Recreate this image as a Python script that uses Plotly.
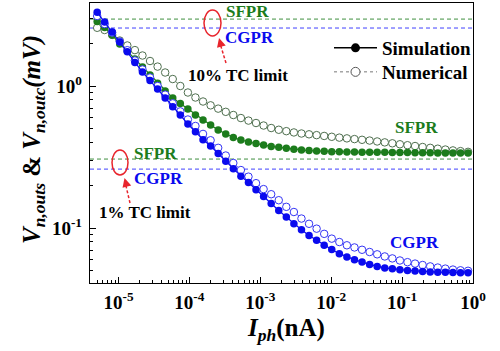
import plotly.graph_objects as go

# ---------------- data ----------------
I_ph = [5.0e-6, 6.37e-6, 8.14e-6, 1.041e-5, 1.331e-5, 1.702e-5, 2.177e-5, 2.784e-5, 3.560e-5, 4.551e-5,
        5.821e-5, 7.443e-5, 9.519e-5, 1.217e-4, 1.557e-4, 1.991e-4, 2.546e-4, 3.256e-4, 4.163e-4, 5.324e-4,
        6.808e-4, 8.706e-4, 1.113e-3, 1.424e-3, 1.821e-3, 2.328e-3, 2.977e-3, 3.807e-3, 4.869e-3, 6.226e-3,
        7.962e-3, 1.018e-2, 1.302e-2, 1.665e-2, 2.129e-2, 2.723e-2, 3.482e-2, 4.452e-2, 5.694e-2, 7.281e-2,
        9.311e-2, 0.1191, 0.1523, 0.1947, 0.2490, 0.3184, 0.4072, 0.5207, 0.6659, 0.8515]

sfpr_sim = [2.85, 2.58, 2.29, 1.98, 1.76, 1.55, 1.36, 1.195, 1.045, 0.922,
            0.823, 0.753, 0.689, 0.625, 0.576, 0.531, 0.490, 0.459, 0.434, 0.417,
            0.403, 0.394, 0.384, 0.375, 0.370, 0.365, 0.359, 0.354, 0.351, 0.349,
            0.347, 0.345, 0.344, 0.343, 0.343, 0.342, 0.342, 0.341, 0.341, 0.340,
            0.340, 0.340, 0.339, 0.339, 0.339, 0.338, 0.338, 0.338, 0.337, 0.337]

sfpr_num = [2.57, 2.48, 2.29, 2.09, 1.93, 1.79, 1.64, 1.50, 1.37, 1.245,
            1.12, 1.00, 0.900, 0.830, 0.778, 0.731, 0.693, 0.658, 0.625, 0.595,
            0.571, 0.549, 0.527, 0.506, 0.492, 0.481, 0.471, 0.463, 0.457, 0.451,
            0.445, 0.439, 0.433, 0.428, 0.423, 0.418, 0.413, 0.407, 0.401, 0.395,
            0.389, 0.383, 0.378, 0.372, 0.367, 0.362, 0.357, 0.352, 0.348, 0.344]

cgpr_sim = [3.30, 2.82, 2.40, 2.04, 1.744, 1.464, 1.255, 1.093, 0.953, 0.823,
            0.714, 0.625, 0.540, 0.476, 0.419, 0.378, 0.335, 0.295, 0.261, 0.232,
            0.209, 0.186, 0.167, 0.149, 0.133, 0.1195, 0.1074, 0.0974, 0.0887, 0.0819,
            0.0755, 0.0705, 0.0660, 0.0626, 0.0599, 0.0576, 0.0553, 0.0537, 0.0524, 0.0516,
            0.0508, 0.0503, 0.0499, 0.0495, 0.0491, 0.0489, 0.0488, 0.0486, 0.0485, 0.0484]

cgpr_num = [3.11, 2.73, 2.38, 2.06, 1.787, 1.512, 1.307, 1.148, 1.000, 0.869,
            0.755, 0.663, 0.581, 0.523, 0.460, 0.415, 0.367, 0.324, 0.287, 0.256,
            0.230, 0.207, 0.188, 0.173, 0.157, 0.141, 0.1297, 0.1166, 0.1071, 0.0990,
            0.0910, 0.0842, 0.0797, 0.0756, 0.0730, 0.0703, 0.0678, 0.0653, 0.0631, 0.0611,
            0.0591, 0.0575, 0.0562, 0.0549, 0.0537, 0.0527, 0.0518, 0.0510, 0.0504, 0.0500]

# TC limits (10% and 1%)
limit10_sfpr = 2.96
limit10_cgpr = 2.56
limit1_sfpr = 0.306
limit1_cgpr = 0.260

x_tickvals = [1e-5, 1e-4, 1e-3, 1e-2, 1e-1, 1]
x_ticktext = ["10<sup>-5</sup>", "10<sup>-4</sup>", "10<sup>-3</sup>", "10<sup>-2</sup>",
              "10<sup>-1</sup>", "10<sup>0</sup>"]
y_tickvals = [0.1, 1]
y_ticktext = ["10<sup>-1</sup>", "10<sup>0</sup>"]

# ---------------- style ----------------
FONT = "Liberation Serif"
GREEN = "#1c7c1c"
GREEN_OPEN = "#4f6f4f"
BLUE = "#0a0aee"
BLUE_OPEN = "#3535f5"
RED = "#e8242c"

fig = go.Figure()

def add_series(y, color, filled):
    if filled:
        fig.add_trace(go.Scatter(
            x=I_ph, y=y, mode="lines+markers", showlegend=False,
            line=dict(color=color, width=1.2),
            marker=dict(symbol="circle", size=7.5, color=color, line=dict(width=0))))
    else:
        fig.add_trace(go.Scatter(
            x=I_ph, y=y, mode="lines+markers", showlegend=False,
            line=dict(color=color, width=0.8, dash="dot"),
            marker=dict(symbol="circle", size=7.5, color="white", line=dict(width=1, color=color))))

add_series(sfpr_num, GREEN_OPEN, False)
add_series(sfpr_sim, GREEN, True)
add_series(cgpr_num, BLUE_OPEN, False)
add_series(cgpr_sim, BLUE, True)

# legend entries (two separate legends to control row spacing)
fig.add_trace(go.Scatter(x=[None], y=[None], mode="lines+markers", name="Simulation",
                         legend="legend",
                         line=dict(color="black", width=1.5),
                         marker=dict(symbol="circle", size=9, color="black")))
fig.add_trace(go.Scatter(x=[None], y=[None], mode="lines+markers", name="Numerical",
                         legend="legend2",
                         line=dict(color="#777777", width=1, dash="dot"),
                         marker=dict(symbol="circle", size=9, color="white",
                                     line=dict(width=1, color="#555555"))))

# TC limit dashed lines
for val, col in [(limit10_sfpr, "#3f8f3f"), (limit10_cgpr, "#4040ff"),
                 (limit1_sfpr, "#3f8f3f"), (limit1_cgpr, "#4040ff")]:
    fig.add_shape(type="line", xref="paper", x0=0, x1=1, yref="y", y0=val, y1=val,
                  line=dict(color=col, width=1, dash="4px,3px"), layer="below")

# plot area geometry (pixels) for annotation placement
L, R, T, B = 90, 473, 3, 283
def px(x):
    return (x - L) / (R - L)
def py(y):
    return (B - y) / (B - T)

def label(text, x, y, color, size=17):
    fig.add_annotation(text="<b>%s</b>" % text, xref="paper", yref="paper", x=px(x), y=py(y),
                       showarrow=False, xanchor="center", yanchor="middle",
                       font=dict(family=FONT, size=size, color=color))

label("SFPR", 247.5, 11, GREEN)
label("CGPR", 249, 37, BLUE)
label("10% TC limit", 237.5, 76, "black")
label("SFPR", 155, 153, GREEN)
label("CGPR", 158, 178, BLUE)
label("1% TC limit", 145, 212, "black")
label("SFPR", 416, 128, GREEN)
label("CGPR", 414, 242, BLUE)

# red ellipses
fig.add_shape(type="circle", xref="paper", yref="paper",
              x0=px(204), x1=px(221), y0=py(36), y1=py(10), line=dict(color=RED, width=1.5))
fig.add_shape(type="circle", xref="paper", yref="paper",
              x0=px(112), x1=px(128), y0=py(175), y1=py(150), line=dict(color=RED, width=1.5))

# red dashed arrows
for (tx, ty), (hx, hy), (ex, ey) in [((226, 63), (220.5, 45), (219, 38)),
                                       ((130, 203), (126, 186), (124.5, 178))]:
    fig.add_shape(type="line", xref="paper", yref="paper", x0=px(tx), y0=py(ty),
                  x1=px(hx), y1=py(hy), line=dict(color=RED, width=1.5, dash="3px,2px"))
    fig.add_annotation(xref="paper", yref="paper", x=px(ex), y=py(ey), text="",
                       showarrow=True, ax=2.2, ay=8, arrowhead=2, arrowsize=1.2,
                       arrowwidth=1.5, arrowcolor=RED, standoff=0)

# axis titles
fig.add_annotation(xref="paper", yref="paper", x=px(286), y=py(329), showarrow=False,
                   text="<b><i>I</i><sub><i>ph</i></sub>(nA)</b>",
                   font=dict(family=FONT, size=25, color="black"),
                   xanchor="center", yanchor="middle")
fig.add_annotation(xref="paper", yref="paper", x=px(33), y=py(140), showarrow=False,
                   textangle=-90,
                   text="<b><i>V</i><sub><i>n,outs</i></sub> &amp; <i>V</i><sub><i>n,outc</i></sub><i>(mV)</i></b>",
                   font=dict(family=FONT, size=25, color="black"),
                   xanchor="center", yanchor="middle")

x_minor = [k * 10.0 ** d for d in range(-6, 0) for k in range(2, 10)]
y_minor = [k * 10.0 ** d for d in range(-2, 1) for k in range(2, 10)]

axis_common = dict(showline=True, linecolor="black", linewidth=1.4, mirror=True,
                   showgrid=False, zeroline=False, ticks="inside", ticklen=6, tickwidth=1.2,
                   tickcolor="black", tickmode="array",
                   tickfont=dict(family=FONT, size=19, color="black", weight="bold"))

fig.update_xaxes(type="log", range=[-5.402, 0.0], tickvals=x_tickvals, ticktext=x_ticktext,
                 minor=dict(tickmode="array", tickvals=x_minor, ticks="inside", ticklen=3,
                            tickwidth=1, tickcolor="black"),
                 ticklabelstandoff=2, **axis_common)
fig.update_yaxes(type="log", range=[-1.387, 0.5845], tickvals=y_tickvals, ticktext=y_ticktext,
                 minor=dict(tickmode="array", tickvals=y_minor, ticks="inside", ticklen=3,
                            tickwidth=1, tickcolor="black"),
                 ticklabelstandoff=3, **axis_common)

legend_common = dict(xanchor="left", yanchor="top", bgcolor="rgba(0,0,0,0)", itemwidth=43,
                     font=dict(family=FONT, size=19, color="black", weight="bold"),
                     tracegroupgap=0)

fig.update_layout(
    width=500, height=351,
    margin=dict(l=L, r=500 - R, t=T, b=351 - B),
    paper_bgcolor="white", plot_bgcolor="white",
    font=dict(family=FONT, color="black"),
    legend=dict(x=px(329), y=py(29), **legend_common),
    legend2=dict(x=px(329), y=py(53), **legend_common),
)

fig.write_html("out.html")
